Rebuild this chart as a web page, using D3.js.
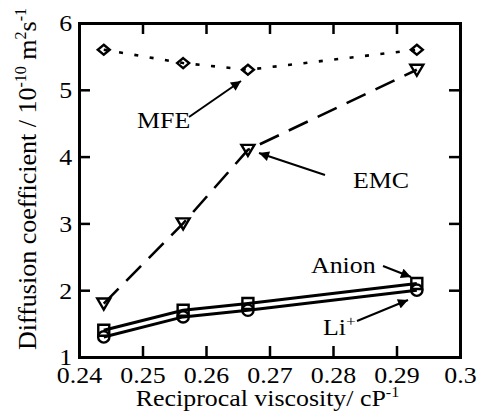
<!DOCTYPE html>
<html>
<head>
<meta charset="utf-8">
<script src="https://cdn.jsdelivr.net/npm/d3@7"></script>
<style>
  body { margin: 0; background: #fff; }
</style>
</head>
<body>
<div id="chart"></div>
<script>
// reciprocal viscosity of the four electrolytes
const recipVisc = [0.2439, 0.2564, 0.2666, 0.2932];
const mfe = [5.6, 5.4, 5.3, 5.6];
const emc = [1.8, 3.0, 4.1, 5.3];
const anion = [1.4, 1.7, 1.8, 2.1];
const lithium = [1.3, 1.6, 1.7, 2.0];
const xTicks = [0.24, 0.25, 0.26, 0.27, 0.28, 0.29, 0.3];
const yTicks = [1, 2, 3, 4, 5, 6];

const width = 477, height = 418;
const margin = {left: 79, right: 17, top: 23, bottom: 61};
const serif = "'Liberation Serif', 'Times New Roman', 'DejaVu Serif', serif";
const stretch = 1.15; // the source figure is a bit wider than tall

const svg = d3.select('#chart').append('svg')
    .attr('width', width)
    .attr('height', height)
    .attr('font-family', serif);

const x = d3.scaleLinear().domain([0.24, 0.3]).range([margin.left, width - margin.right]);
const y = d3.scaleLinear().domain([1, 6]).range([height - margin.bottom, margin.top]);

const tickLen = 11;
const fmtX = d => d === 0.3 ? '0.3' : d3.format('.2f')(d);

// axes, ticks pointing inward on all four sides
const axBottom = svg.append('g').attr('transform', `translate(0,${y(1)})`)
    .call(d3.axisBottom(x).tickValues(xTicks).tickSize(-tickLen).tickPadding(10).tickFormat(fmtX));
const axTop = svg.append('g').attr('transform', `translate(0,${y(6)})`)
    .call(d3.axisTop(x).tickValues(xTicks).tickSize(-tickLen).tickFormat(''));
const axLeft = svg.append('g').attr('transform', `translate(${x(0.24)},0)`)
    .call(d3.axisLeft(y).tickValues(yTicks).tickSize(-tickLen).tickPadding(6).tickFormat(d3.format('d')));
const axRight = svg.append('g').attr('transform', `translate(${x(0.3)},0)`)
    .call(d3.axisRight(y).tickValues(yTicks).tickSize(-tickLen).tickFormat(''));

[axBottom, axTop, axLeft, axRight].forEach(g => {
    g.attr('font-family', serif).attr('font-size', 22.5);
    g.select('.domain').attr('stroke', '#000').attr('stroke-width', 3);
    g.selectAll('.tick line').attr('stroke', '#000').attr('stroke-width', 2.5);
    g.selectAll('.tick text').attr('fill', '#000').attr('transform', `scale(${stretch},1)`);
});
axBottom.selectAll('.tick text').attr('dy', '0.71em');
axLeft.selectAll('.tick text').attr('dy', '0.35em');

// x axis title
const xt = svg.append('text')
    .attr('transform', `translate(${(x(0.24) + x(0.3)) / 2 - 2},406) scale(${stretch},1)`)
    .attr('text-anchor', 'middle')
    .attr('font-size', 22.5);
xt.append('tspan').text('Reciprocal viscosity/ cP');
xt.append('tspan').attr('dy', -9).attr('font-size', 14).text('-1');

// y axis title
const yt = svg.append('text')
    .attr('transform', `translate(36,${(y(1) + y(6)) / 2 - 11}) rotate(-90)`)
    .attr('text-anchor', 'middle')
    .attr('font-size', 26);
yt.append('tspan').text('Diffusion coefficient / 10');
yt.append('tspan').attr('dy', -10).attr('font-size', 16).text('-10');
yt.append('tspan').attr('dy', 10).text(' m');
yt.append('tspan').attr('dy', -10).attr('font-size', 16).text('2');
yt.append('tspan').attr('dy', 10).text('s');
yt.append('tspan').attr('dy', -10).attr('font-size', 16).text('-1');

const series = [
    {name: 'MFE', values: mfe, dash: '4,11.5', symbol: 'diamond'},
    {name: 'EMC', values: emc, dash: '21,11', symbol: 'triangle'},
    {name: 'Anion', values: anion, dash: null, symbol: 'square'},
    {name: 'Li', values: lithium, dash: null, symbol: 'circle'}
];

const line = d3.line().x(d => x(d[0])).y(d => y(d[1]));

svg.append('g').selectAll('path')
    .data(series)
    .join('path')
    .attr('d', s => line(recipVisc.map((v, i) => [v, s.values[i]])))
    .attr('fill', 'none')
    .attr('stroke', '#000')
    .attr('stroke-width', s => s.dash ? 2.6 : 3)
    .attr('stroke-dasharray', s => s.dash);

function markerPath(kind) {
    if (kind === 'diamond') return 'M0,-5L6,0L0,5L-6,0Z';
    if (kind === 'triangle') return 'M-6.5,-5L6.5,-5L0,6Z';
    if (kind === 'square') return 'M-5.5,-5.5L5.5,-5.5L5.5,5.5L-5.5,5.5Z';
    return d3.symbol(d3.symbolCircle, 100)();
}

series.forEach(s => {
    svg.append('g').selectAll('path')
        .data(recipVisc.map((v, i) => [v, s.values[i]]))
        .join('path')
        .attr('transform', d => `translate(${x(d[0])},${y(d[1])})`)
        .attr('d', markerPath(s.symbol))
        .attr('fill', 'none')
        .attr('stroke', '#000')
        .attr('stroke-width', 2.4);
});

// annotation arrows
svg.append('defs').append('marker')
    .attr('id', 'head')
    .attr('viewBox', '0 0 10 10')
    .attr('refX', 10).attr('refY', 5)
    .attr('markerWidth', 6).attr('markerHeight', 5)
    .attr('markerUnits', 'strokeWidth')
    .attr('orient', 'auto')
    .append('path').attr('d', 'M0,0L10,5L0,10Z').attr('fill', '#000');

const notes = [
    {text: 'MFE', tx: 137, ty: 128, from: [189, 117], to: [241, 81]},
    {text: 'EMC', tx: 353, ty: 188, from: [325, 175], to: [259, 153]},
    {text: 'Anion', tx: 311, ty: 273, from: [383, 266], to: [411, 277]},
    {text: 'Li', tx: 323, ty: 335, from: [357, 321], to: [408, 300]}
];

notes.forEach(n => {
    svg.append('line')
        .attr('x1', n.from[0]).attr('y1', n.from[1])
        .attr('x2', n.to[0]).attr('y2', n.to[1])
        .attr('stroke', '#000').attr('stroke-width', 2)
        .attr('marker-end', 'url(#head)');
    const t = svg.append('text')
        .attr('transform', `translate(${n.tx},${n.ty}) scale(${stretch},1)`)
        .attr('font-size', 22.5)
        .text(n.text);
    if (n.text === 'Li') t.append('tspan').attr('dy', -9).attr('font-size', 15).text('+');
});
</script>
</body>
</html>
